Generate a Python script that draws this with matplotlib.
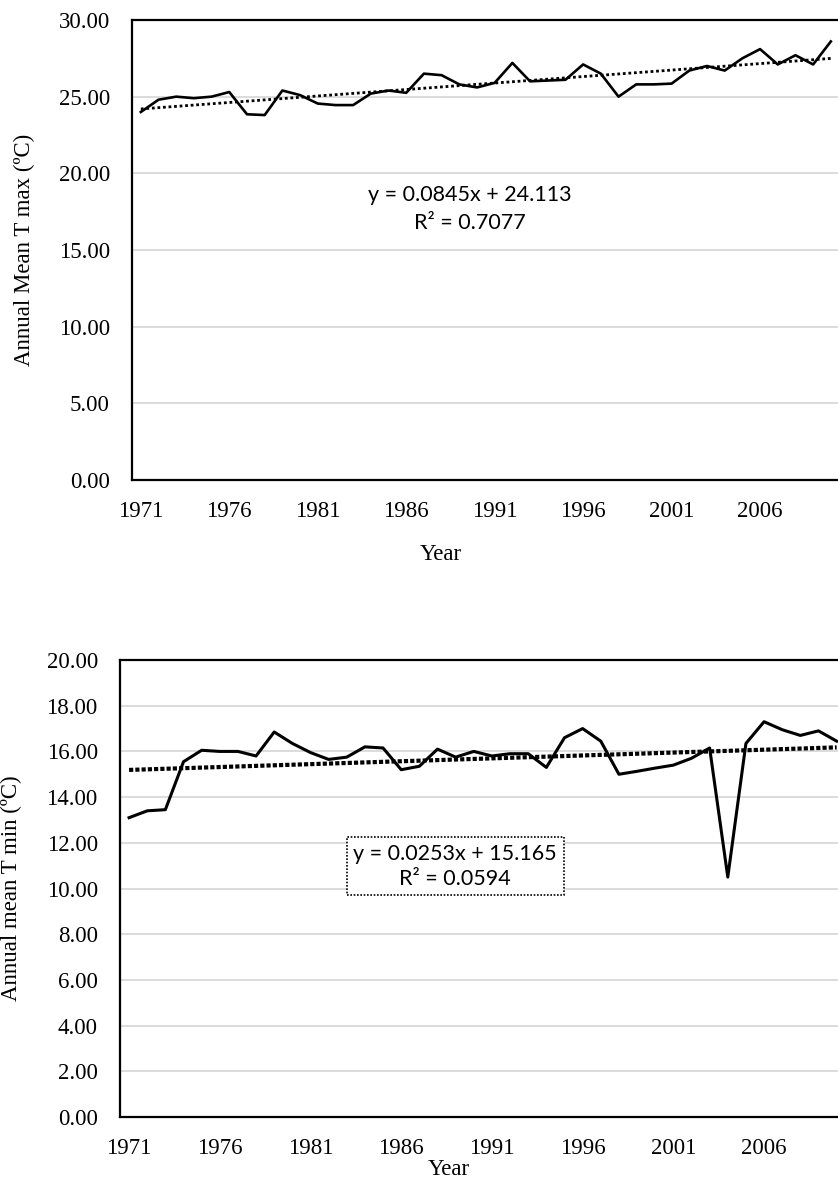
import numpy as np
import matplotlib
matplotlib.use("Agg")
import matplotlib.pyplot as plt
from matplotlib.ticker import FormatStrFormatter

years = np.arange(1971, 2011)

tmax = [24.00, 24.80, 25.00, 24.90, 25.00, 25.30, 23.85, 23.80, 25.40, 25.10,
        24.55, 24.45, 24.45, 25.20, 25.40, 25.25, 26.50, 26.40, 25.80, 25.60,
        25.90, 27.20, 26.00, 26.05, 26.10, 27.10, 26.50, 25.00, 25.80, 25.80,
        25.85, 26.70, 27.00, 26.70, 27.50, 28.10, 27.10, 27.70, 27.10, 28.60]

tmin = [13.10, 13.40, 13.45, 15.55, 16.05, 16.00, 16.00, 15.80, 16.85, 16.35,
        15.95, 15.65, 15.75, 16.20, 16.15, 15.20, 15.35, 16.10, 15.75, 16.00,
        15.80, 15.90, 15.90, 15.30, 16.60, 17.00, 16.45, 15.00, 15.13, 15.27,
        15.40, 15.70, 16.15, 10.50, 16.35, 17.30, 16.95, 16.70, 16.90, 16.45]

tmax_fit = (0.0845, 24.113, 0.7077)
tmin_fit = (0.0253, 15.165, 0.0594)

year_ticks = [1971, 1976, 1981, 1986, 1991, 1996, 2001, 2006]

serif = "Liberation Serif"
sans = "Lato"
tick_fs = 16.5
eq_fs = 15.5
grid_col = "#d9d9d9"

fig = plt.figure(figsize=(8.38, 11.82), dpi=100)


def panel(rect, values, fit, ymax, ystep, ylabel, ylabel_x, xlabel_x, xlabel_pad,
          line_lw, trend_lw, trend_dash):
    ax = fig.add_axes(rect)
    ax.set_xlim(years[0] - 0.5, years[-1] + 0.5)
    ax.set_ylim(0, ymax)
    ax.set_yticks(np.arange(0, ymax + ystep / 2, ystep))
    ax.yaxis.set_major_formatter(FormatStrFormatter("%.2f"))
    ax.set_xticks(year_ticks)
    ax.set_xticklabels([str(y) for y in year_ticks])
    ax.tick_params(axis="both", length=0, labelsize=tick_fs)
    ax.tick_params(axis="y", pad=16)
    ax.tick_params(axis="x", pad=15)
    for lab in ax.get_xticklabels() + ax.get_yticklabels():
        lab.set_fontfamily(serif)
    ax.grid(axis="y", color=grid_col, linewidth=1.3)
    ax.set_axisbelow(True)
    for side in ("left", "bottom", "top"):
        ax.spines[side].set_color("black")
        ax.spines[side].set_linewidth(1.6)
    ax.spines["right"].set_visible(False)

    ax.plot(years, values, color="black", linewidth=line_lw, zorder=3)

    idx = np.arange(1, len(years) + 1)
    slope, intercept, _ = fit
    trend = slope * idx + intercept
    ax.plot(years, trend, color="black", linewidth=trend_lw,
            linestyle=(0, trend_dash), dash_capstyle="butt", zorder=2)

    ax.set_ylabel(ylabel, fontsize=tick_fs, fontfamily=serif)
    ax.yaxis.set_label_coords(ylabel_x, 0.5)
    ax.set_xlabel("Year", fontsize=tick_fs, fontfamily=serif, labelpad=xlabel_pad)
    ax.xaxis.label.set_x(xlabel_x)
    return ax


ax1 = panel([0.1575, 0.5939, 0.8445, 0.3892], tmax, tmax_fit, 30, 5,
            "Annual Mean T max (ºC)", -0.137, 0.437, 16,
            1.9, 2.0, (1, 1))
ax1.text(0.478, 0.589, f"y = {tmax_fit[0]}x + {tmax_fit[1]}\nR² = {tmax_fit[2]}",
         transform=ax1.transAxes, ha="center", va="center", fontsize=eq_fs,
         fontfamily=sans, linespacing=1.45)

ax2 = panel([0.1432, 0.0550, 0.8660, 0.3866], tmin, tmin_fit, 20, 2,
            "Annual mean T min (ºC)", -0.135, 0.453, 0,
            2.2, 3.0, (1, 0.5))
ax2.text(0.462, 0.549, f"y = {tmin_fit[0]}x + {tmin_fit[1]}\nR² = {tmin_fit[2]}",
         transform=ax2.transAxes, ha="center", va="center", fontsize=eq_fs,
         fontfamily=sans, linespacing=1.3,
         bbox=dict(boxstyle="square,pad=0.3", facecolor="white",
                   edgecolor="black", linestyle=(0, (1, 1)), linewidth=1.2))

fig.savefig("out.png", dpi=100)
